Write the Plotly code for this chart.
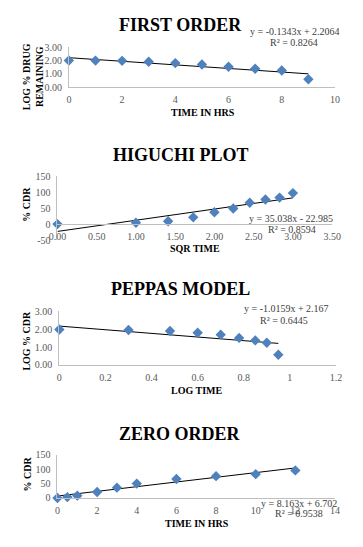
import plotly.graph_objects as go

W, H = 363, 547

# ---------------- data ----------------
first_time = [0, 1, 2, 3, 4, 5, 6, 7, 8, 9]
first_log_remaining = [2.00, 1.99, 1.97, 1.90, 1.80, 1.70, 1.53, 1.38, 1.25, 0.59]
first_fit = (-0.1343, 2.2064)
first_eq = ["y = -0.1343x + 2.2064", "R² = 0.8264"]

higuchi_sqrt_time = [0.00, 1.00, 1.41, 1.73, 2.00, 2.24, 2.45, 2.65, 2.83, 3.00]
higuchi_cdr = [0, 4, 9, 21, 37, 49, 67, 77, 83, 97]
higuchi_fit = (35.038, -22.985)
higuchi_eq = ["y = 35.038x - 22.985", "R² = 0.8594"]
higuchi_yticks = [-50, 0, 50, 100, 150]
higuchi_yticklabels = ["-50", "0", "50", "100", "150"]

peppas_log_time = [0.00, 0.30, 0.48, 0.60, 0.70, 0.78, 0.85, 0.90, 0.95]
peppas_log_cdr = [1.98, 1.95, 1.89, 1.80, 1.69, 1.51, 1.37, 1.24, 0.57]
peppas_fit = (-1.0159, 2.167)
peppas_eq = ["y = -1.0159x + 2.167", "R² = 0.6445"]

zero_time = [0, 0.5, 1, 2, 3, 4, 6, 8, 10, 12]
zero_cdr = [0, 3, 8, 21, 36, 50, 66, 76, 83, 96]
zero_fit = (8.163, 6.702)
zero_eq = ["y = 8.163x + 6.702", "R² = 0.9538"]

# ---------------- helpers ----------------
def px(x):
    return x / W

def py(y):
    return 1 - y / H

FONT = "Liberation Serif"
BLUE = "#4F81BD"
AXIS = "#BFBFBF"
TICK = "#595959"

fig = go.Figure()

panels = [
    dict(x=first_time, y=first_log_remaining, fit=first_fit, eq=first_eq,
         title="FIRST ORDER", xt="TIME IN HRS", yt="LOG % DRUG<br>REMAINING",
         xd=(63, 343), yd=(42, 83), xr=[0, 10], xdt=2, xfmt="",
         yr=[0, 3], ydt=1, yfmt=".2f", xpos=None, yticks=None,
         ttl=(180, 19), xtl=(204, 109), ytl=(26, 72),
         eqp=((301, 26), (300, 37))),
    dict(x=higuchi_sqrt_time, y=higuchi_cdr, fit=higuchi_fit, eq=higuchi_eq,
         title="HIGUCHI PLOT", xt="SQR TIME", yt="% CDR",
         xd=(51, 340), yd=(174, 239.3), xr=[0, 3.5], xdt=0.5, xfmt=".2f",
         yr=[-50, 150], ydt=50, yfmt="", xpos=222.75,
         yticks=(higuchi_yticks, higuchi_yticklabels),
         ttl=(181, 152), xtl=(196, 248), ytl=(18, 203),
         eqp=((297, 217), (298, 229))),
    dict(x=peppas_log_time, y=peppas_log_cdr, fit=peppas_fit, eq=peppas_eq,
         title="PEPPAS MODEL", xt="LOG TIME", yt="LOG % CDR",
         xd=(53, 344), yd=(312, 367), xr=[0, 1.2], xdt=0.2, xfmt="",
         yr=[0, 3], ydt=1, yfmt=".2f", xpos=None, yticks=None,
         ttl=(180, 289), xtl=(198, 393), ytl=(18, 342),
         eqp=((292, 309), (289, 322))),
    dict(x=zero_time, y=zero_cdr, fit=zero_fit, eq=zero_eq,
         title="ZERO ORDER", xt="TIME IN HRS", yt="% CDR",
         xd=(51, 343), yd=(459, 503), xr=[0, 14], xdt=2, xfmt="",
         yr=[0, 150], ydt=50, yfmt="", xpos=None, yticks=None,
         ttl=(180, 438), xtl=(198, 529), ytl=(19, 479),
         eqp=((305, 509), (305, 519))),
]

annotations = []
layout_axes = {}
for i, p in enumerate(panels, start=1):
    xa = "x" if i == 1 else f"x{i}"
    ya = "y" if i == 1 else f"y{i}"
    m, b = p["fit"]
    x0, x1 = min(p["x"]), max(p["x"])
    fig.add_trace(go.Scatter(x=[x0, x1], y=[m * x0 + b, m * x1 + b], mode="lines",
                             line=dict(color="black", width=1), xaxis=xa, yaxis=ya,
                             showlegend=False, hoverinfo="skip"))
    fig.add_trace(go.Scatter(x=p["x"], y=p["y"], mode="markers",
                             marker=dict(symbol="diamond", size=8, color=BLUE),
                             xaxis=xa, yaxis=ya, showlegend=False, cliponaxis=False))
    xkey = "xaxis" if i == 1 else f"xaxis{i}"
    ykey = "yaxis" if i == 1 else f"yaxis{i}"
    xaxis = dict(domain=[px(p["xd"][0]), px(p["xd"][1])], range=p["xr"], dtick=p["xdt"],
                 tick0=0, tickformat=p["xfmt"], showgrid=False, zeroline=False,
                 showline=True, linecolor=AXIS, linewidth=1,
                 ticks="outside", ticklen=3, tickcolor="rgba(0,0,0,0)",
                 tickfont=dict(family=FONT, size=10, color=TICK), fixedrange=True)
    if p["xpos"] is not None:
        xaxis.update(anchor="free", position=py(p["xpos"]))
    else:
        xaxis.update(anchor=ya)
    yaxis = dict(domain=[py(p["yd"][1]), py(p["yd"][0])], range=p["yr"],
                 tickformat=p["yfmt"], showgrid=False, zeroline=False,
                 showline=True, linecolor=AXIS, linewidth=1, anchor=xa,
                 ticks="outside", ticklen=4, tickcolor="rgba(0,0,0,0)",
                 tickfont=dict(family=FONT, size=10, color=TICK), fixedrange=True)
    if p["yticks"] is not None:
        yaxis.update(tickmode="array", tickvals=p["yticks"][0], ticktext=p["yticks"][1])
    else:
        yaxis.update(dtick=p["ydt"], tick0=0)
    layout_axes[xkey] = xaxis
    layout_axes[ykey] = yaxis

    annotations.append(dict(text=f"<b>{p['title']}</b>", x=px(p["ttl"][0]), y=py(p["ttl"][1]),
                            xref="paper", yref="paper", showarrow=False,
                            xanchor="center", yanchor="middle",
                            font=dict(family=FONT, size=18, color="black")))
    annotations.append(dict(text=f"<b>{p['xt']}</b>", x=px(p["xtl"][0]), y=py(p["xtl"][1]),
                            xref="paper", yref="paper", showarrow=False,
                            xanchor="center", yanchor="middle",
                            font=dict(family=FONT, size=10, color="black")))
    annotations.append(dict(text=f"<b>{p['yt']}</b>", x=px(p["ytl"][0]), y=py(p["ytl"][1]),
                            xref="paper", yref="paper", showarrow=False, textangle=-90,
                            xanchor="center", yanchor="middle",
                            font=dict(family=FONT, size=10, color="black")))
    for txt, (ex, ey) in zip(p["eq"], p["eqp"]):
        annotations.append(dict(text=txt, x=px(ex), y=py(ey), xref="paper", yref="paper",
                                showarrow=False, xanchor="center", yanchor="middle",
                                font=dict(family=FONT, size=10, color="#404040")))

fig.update_layout(width=W, height=H, margin=dict(l=0, r=0, t=0, b=0),
                  paper_bgcolor="white", plot_bgcolor="white",
                  annotations=annotations, **layout_axes)

fig.write_html("out.html", config={"displayModeBar": False},
               post_script="document.body.style.margin='0';document.body.style.overflow='hidden';")
